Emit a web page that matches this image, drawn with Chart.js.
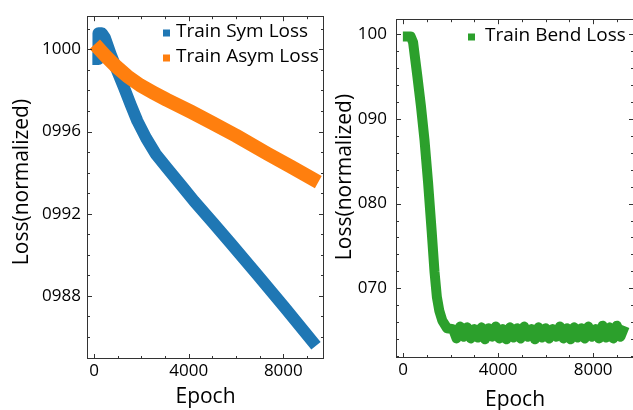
<!DOCTYPE html>
<html>
<head>
<meta charset="utf-8">
<script src="https://cdn.jsdelivr.net/npm/chart.js@4.4.1/dist/chart.umd.min.js"></script>
<style>
  body { margin: 0; background: #fff; width: 633px; height: 410px; overflow: hidden; position: relative; }
  #leftWrap { position: absolute; left: 0; top: 0; width: 330px; height: 410px; }
  #rightWrap { position: absolute; left: 330px; top: 0; width: 304px; height: 410px; }
</style>
</head>
<body>
<div id="leftWrap"><canvas id="symChart"></canvas></div>
<div id="rightWrap"><canvas id="bendChart"></canvas></div>
<script>
// left panel: sym / asym loss
const symEpochs = [180, 185, 330, 460, 700, 980, 1264, 1550, 1827, 2200, 2604, 3100, 3730, 4224, 5000, 5746, 6888, 8072, 9220];
const symLoss = [0.99953, 1.00078, 1.00078, 1.00056, 0.99976, 0.99895, 0.99814, 0.99730, 0.99652, 0.99568, 0.99491, 0.99420, 0.99332, 0.99262, 0.99160, 0.99060, 0.98905, 0.98742, 0.98580];

const asymEpochs = [230, 500, 880, 1400, 1940, 2500, 3070, 4085, 5000, 6000, 7330, 8300, 9220];
const asymLoss = [1.00000, 0.99966, 0.99922, 0.99870, 0.99826, 0.99790, 0.99755, 0.99697, 0.99642, 0.99580, 0.99492, 0.99430, 0.99371];

// right panel: bend loss
const bendEpochs = [200, 320, 420, 500, 600, 750, 900, 1050, 1200, 1320, 1420, 1520, 1650, 1850,
  2100, 2250, 2400, 2550, 2700, 2850, 3000, 3150, 3300, 3450, 3600, 3750, 3900, 4050, 4200,
  4350, 4500, 4650, 4800, 4950, 5100, 5250, 5400, 5550, 5700, 5850, 6000, 6150, 6300, 6450,
  6600, 6750, 6900, 7050, 7200, 7350, 7500, 7650, 7800, 7950, 8100, 8250, 8400, 8550, 8700,
  8850, 9000, 9150, 9250];
const bendLoss = [0.997, 0.997, 0.990, 0.972, 0.950, 0.915, 0.875, 0.825, 0.768, 0.720, 0.690, 0.674, 0.662, 0.653,
  0.652, 0.641, 0.655, 0.643, 0.654, 0.641, 0.652, 0.642, 0.654, 0.640, 0.653, 0.643, 0.655, 0.641, 0.652,
  0.640, 0.654, 0.642, 0.653, 0.641, 0.655, 0.643, 0.652, 0.640, 0.654, 0.642, 0.653, 0.641, 0.652, 0.643,
  0.655, 0.641, 0.653, 0.640, 0.654, 0.642, 0.653, 0.641, 0.655, 0.643, 0.652, 0.641, 0.656, 0.642, 0.654,
  0.641, 0.656, 0.643, 0.650];

// ticks
const epochTicks = [0, 4000, 8000];
const symTickValues = [0.988, 0.992, 0.996, 1.000];
const symTickLabels = ['0988', '0992', '0996', '1000'];
const bendTickValues = [0.70, 0.80, 0.90, 1.00];
const bendTickLabels = ['070', '080', '090', '100'];

const BLUE = '#1f77b4', ORANGE = '#ff7f0e', GREEN = '#2ca02c';
Chart.defaults.font.family = '"Open Sans", sans-serif';
Chart.defaults.color = '#000';

function toPoints(xs, ys) {
  return xs.map((x, i) => ({ x: x, y: ys[i] }));
}

// inward ticks on all four sides + frame, legend and y title
const framePlugin = {
  id: 'frame',
  afterDatasetsDraw(chart, args, opts) {
    const { ctx, chartArea: a, scales: { x, y } } = chart;
    ctx.save();
    ctx.strokeStyle = '#333';
    ctx.lineWidth = 1;
    ctx.strokeRect(Math.round(a.left) + 0.5, Math.round(a.top) + 0.5,
      Math.round(a.right - a.left) - 1, Math.round(a.bottom - a.top) - 1);
    ctx.beginPath();
    for (let v = 0; v <= 9000; v += 1000) {
      const len = epochTicks.includes(v) ? 5 : 3;
      const px = Math.round(x.getPixelForValue(v)) + 0.5;
      ctx.moveTo(px, a.bottom); ctx.lineTo(px, a.bottom - len);
      ctx.moveTo(px, a.top); ctx.lineTo(px, a.top + len);
    }
    for (let i = 0; ; i++) {
      const v = opts.minorStart + i * opts.minorStep;
      if (v > y.max) break;
      if (v < y.min) continue;
      const k = (v - opts.majorStart) / opts.majorStep;
      const len = Math.abs(k - Math.round(k)) < 1e-6 ? 5 : 3;
      const py = Math.round(y.getPixelForValue(v)) + 0.5;
      ctx.moveTo(a.left, py); ctx.lineTo(a.left + len, py);
      ctx.moveTo(a.right, py); ctx.lineTo(a.right - len, py);
    }
    ctx.stroke();

    // legend
    ctx.font = '19px "Open Sans", sans-serif';
    ctx.textBaseline = 'middle';
    ctx.textAlign = 'left';
    opts.legend.forEach((item, i) => {
      const cy = opts.legendTop + i * opts.legendGap;
      ctx.fillStyle = item.color;
      ctx.fillRect(opts.legendX, cy - 3.5, 7, 7);
      ctx.fillStyle = '#000';
      ctx.fillText(item.label, opts.legendX + opts.textGap, cy - 1);
    });

    // y title
    ctx.font = '21px "Open Sans", sans-serif';
    ctx.textAlign = 'center';
    ctx.textBaseline = 'middle';
    ctx.translate(opts.titleX, opts.titleY);
    ctx.rotate(-Math.PI / 2);
    ctx.fillText('Loss(normalized)', 0, 0);
    ctx.restore();
  }
};

function xScale(height, titleShift) {
  return {
    type: 'linear', min: -300, max: 9720,
    grid: { display: false, drawTicks: false },
    border: { display: false },
    afterBuildTicks: s => { s.ticks = epochTicks.map(v => ({ value: v })); },
    afterFit: s => { s.height = height; },
    ticks: { font: { size: 17 }, padding: 2, maxRotation: 0, callback: v => String(v) },
    title: { display: true, text: 'Epoch', font: { size: 21 }, padding: { top: 0, bottom: titleShift } }
  };
}

function yScale(min, max, values, labels, width, pad) {
  return {
    min: min, max: max,
    grid: { display: false, drawTicks: false },
    border: { display: false },
    afterBuildTicks: s => { s.ticks = values.map(v => ({ value: v })); },
    afterFit: s => { s.width = width; },
    ticks: { font: { size: 17 }, padding: pad, callback: (v, i) => labels[i] }
  };
}

const lineStyle = { tension: 0, borderCapStyle: 'square', borderJoinStyle: 'round' };

new Chart(document.getElementById('symChart'), {
  type: 'line',
  data: {
    datasets: [
      { label: 'Train Sym Loss', data: toPoints(symEpochs, symLoss), borderColor: BLUE, borderWidth: 12, order: 2 },
      { label: 'Train Asym Loss', data: toPoints(asymEpochs, asymLoss), borderColor: ORANGE, borderWidth: 14, order: 1 }
    ]
  },
  options: {
    responsive: true, maintainAspectRatio: false, animation: false,
    layout: { padding: { top: 15, right: 6, left: 0, bottom: 0 } },
    elements: { point: { radius: 0 }, line: lineStyle },
    scales: {
      x: xScale(51, 0),
      y: yScale(0.98493, 1.001615, symTickValues, symTickLabels, 87, 6)
    },
    plugins: {
      legend: { display: false }, tooltip: { enabled: false },
      frame: {
        minorStart: 0.984, minorStep: 0.001, majorStart: 0.988, majorStep: 0.004,
        legend: [{ label: 'Train Sym Loss', color: BLUE }, { label: 'Train Asym Loss', color: ORANGE }],
        legendX: 163, legendTop: 33, legendGap: 25, textGap: 13,
        titleX: 22, titleY: 182
      }
    }
  },
  plugins: [framePlugin]
});

new Chart(document.getElementById('bendChart'), {
  type: 'line',
  data: {
    datasets: [
      { label: 'Train Bend Loss', data: toPoints(bendEpochs, bendLoss), borderColor: GREEN, borderWidth: 10 }
    ]
  },
  options: {
    responsive: true, maintainAspectRatio: false, animation: false,
    layout: { padding: { top: 14, right: 0, left: 0, bottom: 0 } },
    elements: { point: { radius: 0 }, line: lineStyle },
    scales: {
      x: xScale(52, -3),
      y: yScale(0.6179, 1.0174, bendTickValues, bendTickLabels, 66, 9)
    },
    plugins: {
      legend: { display: false }, tooltip: { enabled: false },
      frame: {
        minorStart: 0.60, minorStep: 0.02, majorStart: 0.70, majorStep: 0.1,
        legend: [{ label: 'Train Bend Loss', color: GREEN }],
        legendX: 138, legendTop: 37, legendGap: 25, textGap: 17,
        titleX: 15, titleY: 177
      }
    }
  },
  plugins: [framePlugin]
});
</script>
</body>
</html>
